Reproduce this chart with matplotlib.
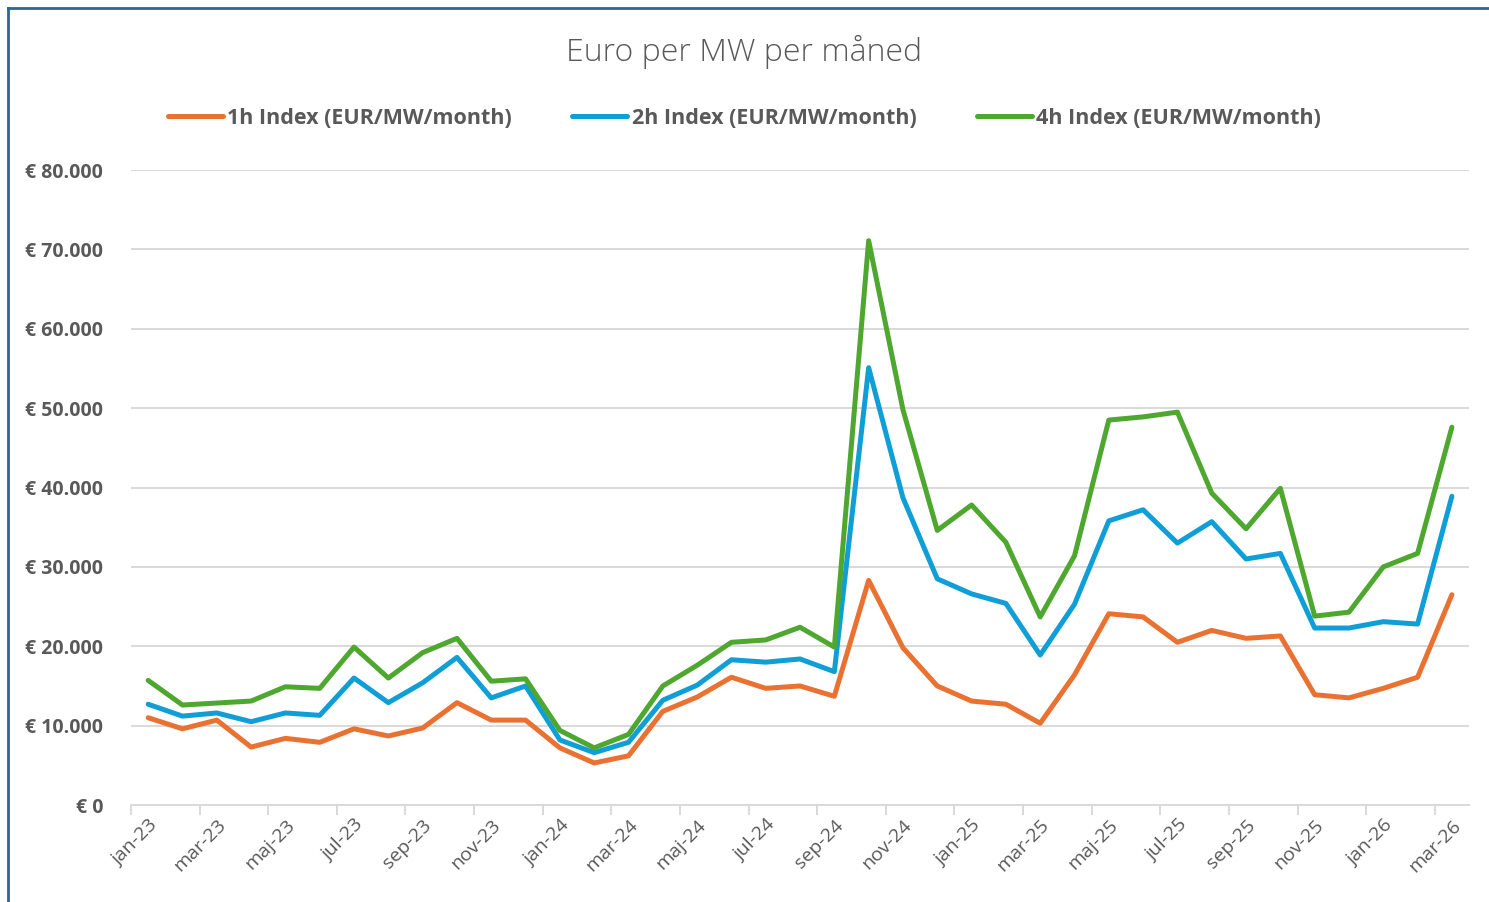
import numpy as np
import matplotlib
matplotlib.use('Agg')
import matplotlib.pyplot as plt
from matplotlib.lines import Line2D
from matplotlib.ticker import FuncFormatter, FixedLocator

plt.rcParams['font.family'] = ['Open Sans', 'DejaVu Sans']

months = ['jan', 'feb', 'mar', 'apr', 'maj', 'jun', 'jul', 'aug', 'sep', 'okt', 'nov', 'dec']
years = ['23', '24', '25', '26']
labels = [m + '-' + y for y in years for m in months][:39]  # jan-23 .. mar-26

idx_1h = [11.0, 9.6, 10.7, 7.3, 8.4, 7.9, 9.6, 8.7, 9.7, 12.9, 10.7, 10.7,
          7.2, 5.3, 6.2, 11.8, 13.6, 16.1, 14.7, 15.0, 13.7, 28.3, 19.8, 15.0,
          13.1, 12.7, 10.3, 16.4, 24.1, 23.7, 20.5, 22.0, 21.0, 21.3, 13.9, 13.5,
          14.7, 16.1, 26.5]
idx_2h = [12.7, 11.2, 11.6, 10.5, 11.6, 11.3, 16.0, 12.9, 15.4, 18.6, 13.5, 15.0,
          8.2, 6.6, 7.9, 13.2, 15.1, 18.3, 18.0, 18.4, 16.8, 55.1, 38.7, 28.5,
          26.6, 25.4, 18.9, 25.3, 35.8, 37.2, 33.0, 35.7, 31.0, 31.7, 22.3, 22.3,
          23.1, 22.8, 38.9]
idx_4h = [15.7, 12.6, 12.85, 13.1, 14.9, 14.7, 19.9, 16.0, 19.2, 21.0, 15.6, 15.9,
          9.4, 7.2, 8.9, 15.0, 17.6, 20.5, 20.8, 22.4, 19.9, 71.1, 49.8, 34.6,
          37.8, 33.1, 23.7, 31.4, 48.5, 48.9, 49.5, 39.3, 34.8, 39.9, 23.8, 24.3,
          30.0, 31.7, 47.6]

series = [
    ('1h Index (EUR/MW/month)', idx_1h, '#E97132'),
    ('2h Index (EUR/MW/month)', idx_2h, '#0F9ED5'),
    ('4h Index (EUR/MW/month)', idx_4h, '#4EA72E'),
]

grey = '#595959'
fig = plt.figure(figsize=(14.89, 9.02), dpi=100)
ax = fig.add_axes([0.088, 0.1075, 0.8986, 0.704])

x = np.arange(len(labels))
handles = []
for name, vals, col in series:
    ax.plot(x, np.array(vals) * 1000, color=col, lw=3.6, solid_joinstyle='round',
            solid_capstyle='round', zorder=3)
    handles.append(Line2D([], [], color=col, lw=3.6, solid_capstyle='round', label=name))

ax.set_xlim(-0.5, len(labels) - 0.5)
ax.set_ylim(0, 80000)
ax.set_yticks(np.arange(0, 80001, 10000))
ax.yaxis.set_major_formatter(FuncFormatter(
    lambda v, p: '€ ' + f'{int(v):,}'.replace(',', '.')))
ax.grid(axis='y', color='#D9D9D9', lw=1.4, zorder=0)

ax.xaxis.set_major_locator(FixedLocator(x[::2]))
ax.set_xticklabels(labels[::2], rotation=45, ha='right', va='top',
                   rotation_mode='anchor', fontsize=14, color=grey)
ax.xaxis.set_minor_locator(FixedLocator(np.arange(-0.5, len(labels), 2)))
ax.tick_params(axis='x', which='major', length=0, pad=8)
ax.tick_params(axis='x', which='minor', length=7, color='#D9D9D9', width=1.4)
ax.tick_params(axis='y', length=0, pad=20, labelsize=14, labelcolor=grey)
for t in ax.get_yticklabels():
    t.set_fontweight('bold')

for s in ['top', 'right', 'left']:
    ax.spines[s].set_visible(False)
ax.spines['bottom'].set_color('#D9D9D9')
ax.spines['bottom'].set_linewidth(1.4)

fig.text(0.5, 1 - 52 / 902, 'Euro per MW per måned', ha='center', va='center',
         fontsize=23, color=grey, fontweight='light')
leg = fig.legend(handles=handles, loc='center', bbox_to_anchor=(0.5, 1 - 118 / 902),
                 ncol=3, frameon=False, handlelength=2.55, handletextpad=0.2,
                 columnspacing=2.8, prop={'size': 15.5, 'weight': 'bold'})
for t in leg.get_texts():
    t.set_color(grey)

# frame edges visible at top and left
fig.add_artist(Line2D([8 / 1489, 1], [1 - 8 / 902, 1 - 8 / 902], transform=fig.transFigure,
                      color='#2E6499', lw=2))
fig.add_artist(Line2D([8 / 1489, 8 / 1489], [0, 1 - 8 / 902], transform=fig.transFigure,
                      color='#2E6499', lw=2))

fig.savefig('out.png', dpi=100)
